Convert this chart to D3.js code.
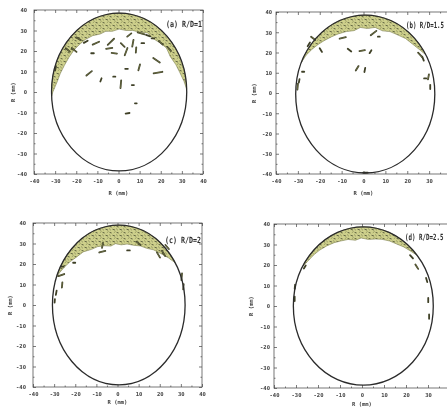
<!DOCTYPE html>
<html>
<head>
<meta charset="utf-8">
<script src="https://cdn.jsdelivr.net/npm/d3@7"></script>
<style>
  body { margin: 0; background: #fff; }
  svg { display: block; }
  .tick text { font-family: "DejaVu Sans Mono", monospace; font-weight: bold; font-size: 5.5px; fill: #444; }
  .tick line { stroke: #444; stroke-width: 0.7; }
  .domain { display: none; }
  .axis-title { font-family: "DejaVu Sans Mono", monospace; font-weight: bold; font-size: 5.5px; fill: #444; }
  .panel-label { font-family: "DejaVu Sans Mono", monospace; font-weight: bold; font-size: 8.5px; fill: #2a2a2a; }
</style>
</head>
<body>
<svg id="chart" width="447" height="407"></svg>
<script>
// tick values
const majorTicks = [-40, -30, -20, -10, 0, 10, 20, 30, 40];
const minorTicks = [-35, -25, -15, -5, 5, 15, 25, 35];
const axisTitle = "R (mm)";
const panelLabels = ["(a) R/D=1", "(b) R/D=1.5", "(c) R/D=2", "(d) R/D=2.5"];

// drum wall: [cx, cy, rx, ry] in mm
const wallA = [0.3, 0, 32, 38.5];
const wallB = [0.8, -0.5, 31.8, 39];
const wallC = [0.6, 0, 31.4, 39];
const wallD = [0.6, 0, 31.8, 38.6];

// packed bed along the wall: [angle deg, thickness mm]
const bandA = [[2,0],[8,1.0],[15,2.2],[22,3.0],[30,4.0],[38,3.6],[45,4.6],[52,5.6],[60,5.2],[67,6.8],[75,7.4],[82,8.2],[90,7.8],[98,8.6],[105,7.8],[112,8.0],[120,6.8],[128,6.0],[135,5.6],[142,5.0],[150,4.6],[158,4.0],[165,3.2],[172,2.4],[176,1.6],[180,0.6],[183,0]];
const bandB = [[30,0],[35,1.2],[42,2.4],[50,3.2],[58,4.4],[65,5.0],[72,6.2],[80,5.6],[88,6.6],[95,6.0],[102,7.0],[110,6.2],[118,5.4],[125,4.6],[132,3.6],[138,2.6],[144,1.6],[150,0.6],[156,0]];
const bandC = [[32,0],[38,1.6],[45,3.4],[52,4.8],[58,6.4],[65,7.2],[72,8.4],[80,8.8],[87,9.6],[94,9.0],[100,9.8],[108,8.6],[115,7.6],[122,7.0],[130,5.2],[137,4.4],[144,3.0],[150,1.8],[156,0.6],[160,0]];
const bandD = [[40,0],[45,1.0],[52,2.0],[58,3.0],[65,3.6],[72,4.4],[78,5.2],[85,6.0],[92,5.4],[98,6.2],[105,5.0],[112,4.4],[118,3.6],[125,2.8],[132,2.0],[138,1.4],[145,0.8],[150,0]];

// loose particles: [x, y, angle deg, length] in mm
const rodsA = [[-21,20.5,-40,3.5],[-15.5,24.5,30,2.5],[-10.7,23.8,25,4],[-12.3,18.9,0,1.5],[-3.6,24.5,45,5],[-4.4,21.3,10,3.5],[-2,18.9,-10,3],[2,22.9,-45,3],[3.6,19.7,70,4.5],[5.1,27.8,40,3],[6.8,23.8,80,4],[8.3,20.5,85,3],[10.7,28.6,-15,4],[11.5,23.8,0,1.5],[16.3,26.2,0,1.5],[18,15.5,-35,4.5],[18.7,9.5,10,5],[-13.9,9.1,40,4],[-8.3,5.9,70,2],[-2,7.5,0,1.2],[1.1,3.8,85,4.5],[6.8,3.4,0,1.2],[9.8,12,75,3.5],[3.8,11.3,0,1.5],[8.2,-5.5,0,1],[4.3,-10.4,10,2.2],[-19,26,-30,3],[-24,20.5,-40,3],[14,27.5,-20,2.5],[20,24,-40,3],[24,21,-50,3],[-29.8,11.6,80,2.5]];
const rodsB = [[-9.5,27.2,15,3.5],[4.6,29.6,40,4],[-19.5,21.2,-60,2.5],[-6.4,21.2,-40,2.5],[-0.6,20.9,10,3],[3.2,20.4,60,2],[-2.9,12.2,60,3],[0.6,11.4,80,2.5],[7,27.8,0,1],[25.9,18.8,-50,3.5],[27.2,17,-70,2.5],[29.7,8,80,3],[28.2,7.2,0,1.2],[-30.1,3.1,85,3.5],[-29.4,6,80,2],[-27.6,10.5,0,1.2],[0.9,-39.3,0,2.5],[-23,27,-40,3],[-25,24,60,2.5],[30.5,3,90,2.5]];
const rodsC = [[-7.2,26,15,3.5],[-7.1,29.1,80,3],[5.2,26.6,0,1.5],[-26,18.7,0,1.2],[-26.6,14.6,20,3.5],[-26.2,9.8,85,3],[-20.5,20.6,0,1.2],[19.4,24.4,-60,3.5],[21.8,25.2,-60,3.5],[30.4,13.8,85,4],[31.2,8.9,85,3],[10,30.1,-40,3],[23.5,28.3,-50,3],[-29,6,80,2.5],[-29.7,2,85,2]];
const rodsD = [[24.9,19.2,-60,3],[29.4,12.7,-75,2.5],[30.1,2.9,90,2.5],[30.5,-5.2,90,2.5],[-30.5,9.4,85,2.5],[-30.6,3.5,90,2.5],[-26,19,60,2],[22.5,24,-50,2.5]];

const panels = [
  { label: panelLabels[0], wall: wallA, band: bandA, rods: rodsA, xr: [34, 203], yr: [174, 10], pad: 7, yTitleX: 15, xTitleY: 195, labelX: 166, labelY: 27, labelW: 36 },
  { label: panelLabels[1], wall: wallB, band: bandB, rods: rodsB, xr: [276, 451], yr: [174, 12], pad: 4, yTitleX: 256, xTitleY: 195, labelX: 406, labelY: 28, labelW: 38 },
  { label: panelLabels[2], wall: wallC, band: bandC, rods: rodsC, xr: [33, 202], yr: [387, 223], pad: 7, yTitleX: 12, xTitleY: 404, labelX: 165, labelY: 243, labelW: 36 },
  { label: panelLabels[3], wall: wallD, band: bandD, rods: rodsD, xr: [274, 450], yr: [388, 224], pad: 4, yTitleX: 253, xTitleY: 406, labelX: 405, labelY: 240, labelW: 38.5 }
];

const svg = d3.select("#chart");

// texture for the packed particle bed
const defs = svg.append("defs");
const pat = defs.append("pattern")
  .attr("id", "bed")
  .attr("patternUnits", "userSpaceOnUse")
  .attr("width", 7).attr("height", 6);
pat.append("rect").attr("width", 7).attr("height", 6).attr("fill", "#ced08c");
pat.append("path").attr("d", "M0.5,1.2 l2.6,0.9").attr("stroke", "#55583a").attr("stroke-width", 0.9);
pat.append("path").attr("d", "M4.2,0.6 l1.6,1.6").attr("stroke", "#858857").attr("stroke-width", 0.9);
pat.append("path").attr("d", "M1.8,4.8 l1.8,-1.4").attr("stroke", "#93965e").attr("stroke-width", 0.9);
pat.append("path").attr("d", "M4.6,4.4 l2,0.6").attr("stroke", "#4c4f32").attr("stroke-width", 0.9);
defs.append("filter").attr("id", "soft")
  .append("feGaussianBlur").attr("stdDeviation", 0.3);

const root = svg.append("g").attr("filter", "url(#soft)");

panels.forEach(p => {
  const x = d3.scaleLinear().domain([-40, 40]).range(p.xr);
  const y = d3.scaleLinear().domain([-40, 40]).range(p.yr);
  const g = root.append("g");

  // frame
  g.append("rect")
    .attr("x", p.xr[0]).attr("y", p.yr[1])
    .attr("width", p.xr[1] - p.xr[0]).attr("height", p.yr[0] - p.yr[1])
    .attr("fill", "none").attr("stroke", "#555").attr("stroke-width", 0.8);

  // axes, ticks inward; labels past the window edge are left out
  const fmt = d => (x(d) > 444 ? "" : String(d));
  const xB = g.append("g").attr("transform", `translate(0,${p.yr[0]})`);
  xB.call(d3.axisBottom(x).tickValues(majorTicks).tickSize(-3).tickPadding(5).tickFormat(fmt));
  xB.append("g").call(d3.axisBottom(x).tickValues(minorTicks).tickSize(-1.5).tickFormat(""));
  const xT = g.append("g").attr("transform", `translate(0,${p.yr[1]})`);
  xT.call(d3.axisTop(x).tickValues(majorTicks).tickSize(-3).tickFormat(""));
  xT.append("g").call(d3.axisTop(x).tickValues(minorTicks).tickSize(-1.5).tickFormat(""));
  const yL = g.append("g").attr("transform", `translate(${p.xr[0]},0)`);
  yL.call(d3.axisLeft(y).tickValues(majorTicks).tickSize(-3).tickPadding(p.pad).tickFormat(d => String(d)));
  yL.append("g").call(d3.axisLeft(y).tickValues(minorTicks).tickSize(-1.5).tickFormat(""));
  const yR = g.append("g").attr("transform", `translate(${p.xr[1]},0)`);
  yR.call(d3.axisRight(y).tickValues(majorTicks).tickSize(-3).tickFormat(""));
  yR.append("g").call(d3.axisRight(y).tickValues(minorTicks).tickSize(-1.5).tickFormat(""));

  // axis titles
  g.append("text").attr("class", "axis-title")
    .attr("x", x(0)).attr("y", p.xTitleY)
    .attr("text-anchor", "middle").text(axisTitle);
  g.append("text").attr("class", "axis-title")
    .attr("transform", `translate(${p.yTitleX},${y(0)}) rotate(-90)`)
    .attr("text-anchor", "middle").text(axisTitle);

  const [cx, cy, rx, ry] = p.wall;
  const rad = a => a * Math.PI / 180;

  // packed bed: outer edge along the wall, inner edge from the thickness list
  const a0 = p.band[0][0], a1 = p.band[p.band.length - 1][0];
  const outer = d3.range(a0, a1 + 0.01, 2).map(a => [cx + rx * Math.cos(rad(a)), cy + ry * Math.sin(rad(a))]);
  const inner = p.band.slice().reverse().map(([a, t]) => [cx + (rx - t) * Math.cos(rad(a)), cy + (ry - t) * Math.sin(rad(a))]);
  const line = d3.line().x(d => x(d[0])).y(d => y(d[1])).curve(d3.curveLinearClosed);
  g.append("path")
    .attr("d", line(outer.concat(inner)))
    .attr("fill", "url(#bed)")
    .attr("stroke", "#7d8050").attr("stroke-width", 0.6);

  // loose particles
  const ends = d => {
    const h = d[3] * 0.42, c = Math.cos(rad(d[2])), s = Math.sin(rad(d[2]));
    return [x(d[0] - h * c), y(d[1] - h * s), x(d[0] + h * c), y(d[1] + h * s)];
  };
  g.selectAll(".rod").data(p.rods).join("line")
    .attr("class", "rod")
    .attr("x1", d => ends(d)[0]).attr("y1", d => ends(d)[1])
    .attr("x2", d => ends(d)[2]).attr("y2", d => ends(d)[3])
    .attr("stroke", "#3f4128").attr("stroke-width", 1.8).attr("stroke-linecap", "round");
  g.selectAll(".rod-core").data(p.rods.filter(d => d[3] > 2.5)).join("line")
    .attr("class", "rod-core")
    .attr("x1", d => ends(d)[0]).attr("y1", d => ends(d)[1])
    .attr("x2", d => ends(d)[2]).attr("y2", d => ends(d)[3])
    .attr("stroke", "#8e9058").attr("stroke-width", 0.5);

  // drum wall
  g.append("ellipse")
    .attr("cx", x(cx)).attr("cy", y(cy))
    .attr("rx", x(cx + rx) - x(cx)).attr("ry", y(cy) - y(cy + ry))
    .attr("fill", "none").attr("stroke", "#2b2b2b").attr("stroke-width", 1.3);

  // panel label, squeezed horizontally to the width seen in the figure
  const lbl = g.append("text").attr("class", "panel-label").text(p.label);
  const natural = lbl.node().getComputedTextLength();
  lbl.attr("transform", `translate(${p.labelX},${p.labelY}) scale(${p.labelW / natural},1)`);
});
</script>
</body>
</html>
